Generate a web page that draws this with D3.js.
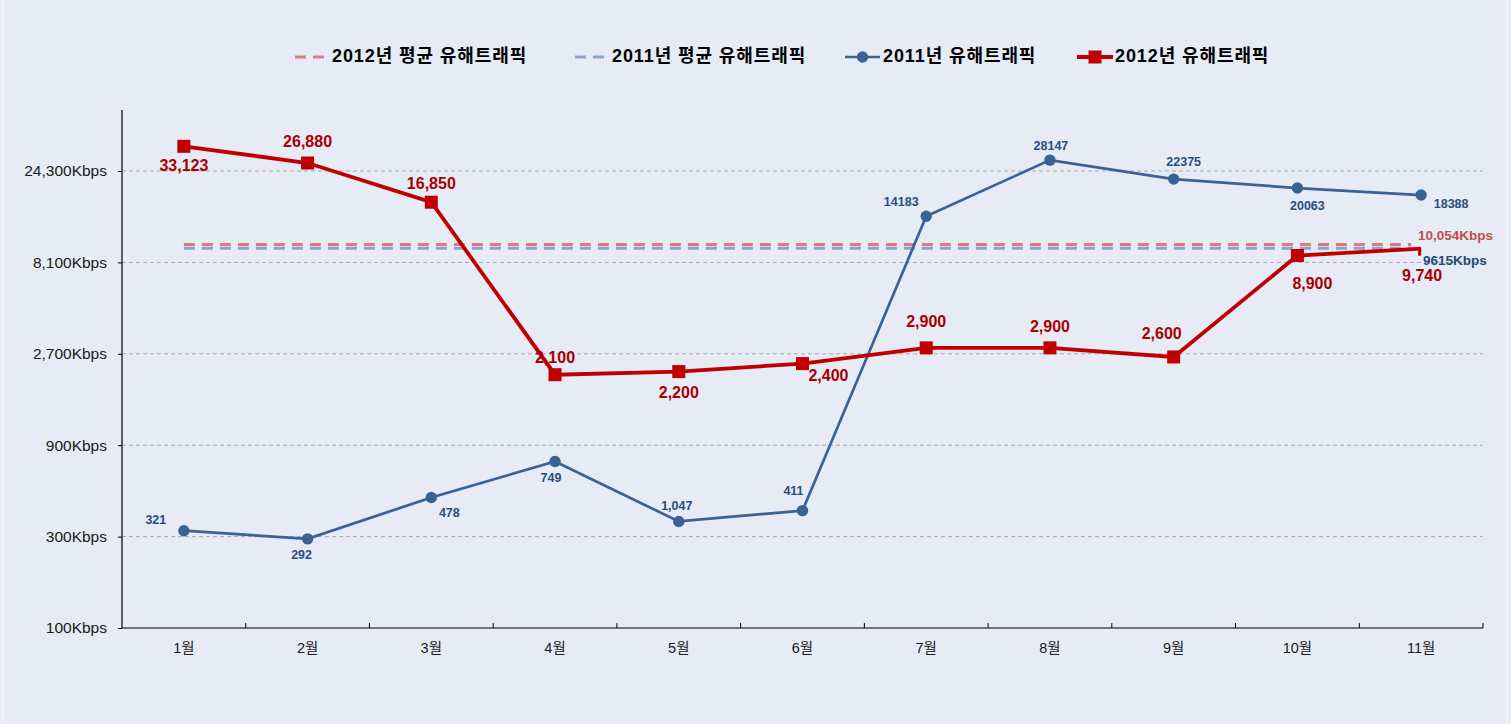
<!DOCTYPE html>
<html>
<head>
<meta charset="utf-8">
<script src="https://cdn.jsdelivr.net/npm/d3@7"></script>
<style>
  html, body { margin: 0; padding: 0; background: #E6EBF6; }
  svg { display: block; }
</style>
</head>
<body>
<svg id="chart" width="1511" height="724"></svg>
<script>
// ---- data ----
const months = ["1월","2월","3월","4월","5월","6월","7월","8월","9월","10월","11월"];
const values2012 = [32700, 26750, 16700, 2100, 2180, 2400, 2900, 2900, 2600, 8800, 9550];
const labels2012 = ["33,123","26,880","16,850","2,100","2,200","2,400","2,900","2,900","2,600","8,900","9,740"];
const values2011 = [322, 292, 480, 740, 360, 410, 14100, 27700, 22050, 19800, 18200];
const labels2011 = ["321","292","478","749","1,047","411","14183","28147","22375","20063","18388"];
const avg2012 = 10054;
const avg2011 = 9615;
const avgLabel2012 = "10,054Kbps";
const avgLabel2011 = "9615Kbps";
const yTicks = [100, 300, 900, 2700, 8100, 24300];
const legendNames = ["2012년 평균 유해트래픽", "2011년 평균 유해트래픽", "2011년 유해트래픽", "2012년 유해트래픽"];

// label offsets in pixels relative to the point (styling, not data)
const off2012 = [[0,20],[0,-20],[0,-17],[0,-16],[0,22],[26,13],[0,-25],[0,-20],[-12,-22],[15,29],[1,28]];
const off2011 = [[-28,-10],[-6,17],[18,16],[-4,17],[-2,-15],[-9,-19],[-25,-14],[1,-13],[10,-16],[10,19],[30,10]];

// ---- layout ----
const svg = d3.select("#chart");
const left = 122, right = 1483, bottom = 628;
const font = "'Liberation Sans', Arial, 'Noto Sans CJK KR', sans-serif";

svg.append("rect").attr("x", 2.5).attr("y", -1).attr("width", 1504).attr("height", 726)
  .attr("fill", "#E6EBF6").attr("stroke", "#F4F6FB").attr("stroke-width", 1.5);

const x = d3.scaleBand().domain(months).range([left, right]).paddingInner(0).paddingOuter(0);
const cx = m => x(m) + x.bandwidth() / 2;
const y = d3.scaleLog().base(3).domain([100, 24300]).range([bottom, 171]);

const red = "#C00000", redLabel = "#A80000";
const blue = "#3A6395", blueLabel = "#2A4E7C";

// gridlines
svg.append("g").selectAll("line").data(yTicks.filter(d => d > 100)).join("line")
  .attr("x1", left).attr("x2", right)
  .attr("y1", d => y(d)).attr("y2", d => y(d))
  .attr("stroke", "#A6A9B0").attr("stroke-width", 1).attr("stroke-dasharray", "4,3");

// y axis
const yAxis = svg.append("g").attr("transform", `translate(${left},0)`)
  .call(d3.axisLeft(y).tickValues(yTicks).tickSize(4).tickPadding(11)
    .tickFormat(d => d3.format(",")(d) + "Kbps"));
yAxis.select(".domain").remove();
yAxis.append("line").attr("x1", 0).attr("x2", 0).attr("y1", 110).attr("y2", bottom)
  .attr("stroke", "#000").attr("stroke-width", 1.2);
yAxis.selectAll(".tick line").attr("stroke", "#000");
yAxis.selectAll(".tick text").attr("font-family", font).attr("font-size", 15.5)
  .attr("fill", "#1a1a1a");

// x axis
svg.append("line").attr("x1", left).attr("x2", right).attr("y1", bottom).attr("y2", bottom)
  .attr("stroke", "#000").attr("stroke-width", 1.2);
svg.append("g").selectAll("line").data(months).join("line")
  .attr("x1", d => x(d) + x.bandwidth())
  .attr("x2", d => x(d) + x.bandwidth())
  .attr("y1", bottom).attr("y2", bottom - 5).attr("stroke", "#000");
svg.append("g").selectAll("text").data(months).join("text")
  .attr("x", d => cx(d)).attr("y", bottom + 25).attr("text-anchor", "middle")
  .attr("font-family", font).attr("font-size", 14.5).attr("fill", "#1a1a1a").text(d => d);

// average lines
const avgX1 = cx(months[0]), avgX2 = cx(months[months.length - 1]) - 10;
svg.append("line").attr("x1", avgX1).attr("x2", avgX2).attr("y1", y(avg2011)).attr("y2", y(avg2011))
  .attr("stroke", "#8EA2C6").attr("stroke-width", 3).attr("stroke-dasharray", "11,7");
svg.append("line").attr("x1", avgX1).attr("x2", avgX2).attr("y1", y(avg2012)).attr("y2", y(avg2012))
  .attr("stroke", "#DA7C86").attr("stroke-width", 3).attr("stroke-dasharray", "11,7");
svg.append("text").attr("x", 1418).attr("y", y(avg2012) - 4)
  .attr("font-family", font).attr("font-size", 13.5).attr("font-weight", "bold")
  .attr("fill", "#C0504D").text(avgLabel2012);
svg.append("text").attr("x", 1423).attr("y", y(avg2011) + 17)
  .attr("font-family", font).attr("font-size", 13.5).attr("font-weight", "bold")
  .attr("fill", "#1F4E79").text(avgLabel2011);

// 2011 series
const line = d3.line().x((d, i) => cx(months[i])).y(d => y(d));
svg.append("path").datum(values2011).attr("d", line).attr("fill", "none")
  .attr("stroke", blue).attr("stroke-width", 2.7);
svg.append("g").selectAll("circle").data(values2011).join("circle")
  .attr("cx", (d, i) => cx(months[i])).attr("cy", d => y(d)).attr("r", 5.7).attr("fill", blue);

// 2012 series
svg.append("path").datum(values2012).attr("d", line).attr("fill", "none")
  .attr("stroke", red).attr("stroke-width", 3.8);
svg.append("g").selectAll("rect").data(values2012).join("rect")
  .attr("x", (d, i) => cx(months[i]) - (i === 10 ? 3 : 6.5))
  .attr("y", (d, i) => y(d) - (i === 10 ? 0 : 6.5))
  .attr("width", (d, i) => i === 10 ? 3 : 13)
  .attr("height", (d, i) => i === 10 ? 7 : 13)
  .attr("fill", red);

// labels
svg.append("g").selectAll("text").data(values2012).join("text")
  .attr("x", (d, i) => cx(months[i]) + off2012[i][0])
  .attr("y", (d, i) => y(d) + off2012[i][1])
  .attr("text-anchor", "middle").attr("dominant-baseline", "middle")
  .attr("font-family", font).attr("font-size", 16).attr("font-weight", "bold")
  .attr("fill", redLabel).text((d, i) => labels2012[i]);
svg.append("g").selectAll("text").data(values2011).join("text")
  .attr("x", (d, i) => cx(months[i]) + off2011[i][0])
  .attr("y", (d, i) => y(d) + off2011[i][1])
  .attr("text-anchor", "middle").attr("dominant-baseline", "middle")
  .attr("font-family", font).attr("font-size", 12.5).attr("font-weight", "bold")
  .attr("fill", blueLabel).text((d, i) => labels2011[i]);

// legend
const legY = 57;
const legItems = [
  { x: 295, type: "dash", color: "#DA7C86" },
  { x: 575, type: "dash", color: "#8EA2C6" },
  { x: 845, type: "circle", color: blue },
  { x: 1077, type: "square", color: red }
];
const lg = svg.append("g");
legItems.forEach((it, i) => {
  const g = lg.append("g");
  if (it.type === "dash") {
    g.append("line").attr("x1", it.x).attr("x2", it.x + 32).attr("y1", legY).attr("y2", legY)
      .attr("stroke", it.color).attr("stroke-width", 3).attr("stroke-dasharray", "11,7");
  } else if (it.type === "circle") {
    g.append("line").attr("x1", it.x).attr("x2", it.x + 35).attr("y1", legY).attr("y2", legY)
      .attr("stroke", it.color).attr("stroke-width", 2.7);
    g.append("circle").attr("cx", it.x + 17.5).attr("cy", legY).attr("r", 5.7).attr("fill", it.color);
  } else {
    g.append("line").attr("x1", it.x).attr("x2", it.x + 36).attr("y1", legY).attr("y2", legY)
      .attr("stroke", it.color).attr("stroke-width", 3.8);
    g.append("rect").attr("x", it.x + 11.5).attr("y", legY - 6.5).attr("width", 13).attr("height", 13)
      .attr("fill", it.color);
  }
  g.append("text").attr("x", it.x + (it.type === "dash" ? 37 : 38)).attr("y", legY)
    .attr("dominant-baseline", "middle")
    .attr("font-family", font).attr("font-size", 18).attr("font-weight", "bold").attr("fill", "#000")
    .attr("letter-spacing", 0.9)
    .text(legendNames[i]);
});
</script>
</body>
</html>
